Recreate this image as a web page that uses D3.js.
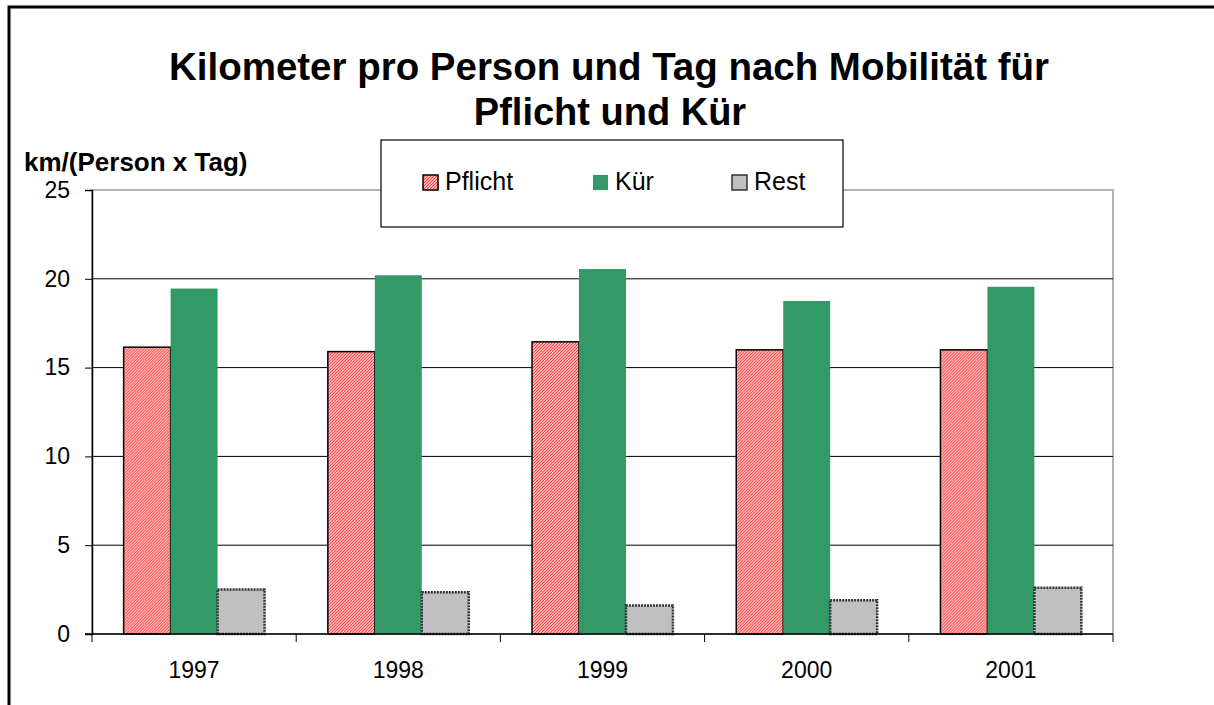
<!DOCTYPE html>
<html>
<head>
<meta charset="utf-8">
<script src="https://cdn.jsdelivr.net/npm/d3@7"></script>
<style>
  body { margin: 0; background: #fff; }
  svg { font-family: "Liberation Sans", Arial, sans-serif; }
</style>
</head>
<body>
<div id="chart"></div>
<script>
'use strict'

const years = ['1997', '1998', '1999', '2000', '2001']
const pflicht = [16.15, 15.9, 16.45, 16.0, 16.0]
const kuer = [19.45, 20.2, 20.55, 18.75, 19.55]
const rest = [2.5, 2.35, 1.6, 1.9, 2.6]
const seriesNames = ['Pflicht', 'Kür', 'Rest']
const yTicks = [0, 5, 10, 15, 20, 25]

const width = 1214
const height = 705
const plot = { left: 92, right: 1113, top: 190, bottom: 634 }

const svg = d3.select('#chart')
  .append('svg')
  .attr('width', width)
  .attr('height', height)

const defs = svg.append('defs')
const hatch = defs.append('pattern')
  .attr('id', 'hatch')
  .attr('patternUnits', 'userSpaceOnUse')
  .attr('width', 3)
  .attr('height', 3)
hatch.append('rect').attr('width', 3).attr('height', 3).attr('fill', '#fff0f0')
hatch.append('path')
  .attr('d', 'M-1,1 l2,-2 M0,3 l3,-3 M2,4 l2,-2')
  .attr('stroke', '#f33')
  .attr('stroke-width', 1.2)

// outer frame
svg.append('path')
  .attr('d', `M9,${height} V7 H${width}`)
  .attr('fill', 'none')
  .attr('stroke', '#000')
  .attr('stroke-width', 3)

const x0 = d3.scaleBand()
  .domain(years)
  .range([plot.left, plot.right])
  .paddingInner(0.31)
  .paddingOuter(0.155)

const x1 = d3.scaleBand()
  .domain(seriesNames)
  .range([0, x0.bandwidth()])

const y = d3.scaleLinear()
  .domain([0, 25])
  .range([plot.bottom, plot.top])

// plot frame
svg.append('rect')
  .attr('x', plot.left)
  .attr('y', plot.top)
  .attr('width', plot.right - plot.left)
  .attr('height', plot.bottom - plot.top)
  .attr('fill', '#fff')
  .attr('stroke', '#999')
  .attr('stroke-width', 1.5)

// gridlines
svg.append('g')
  .selectAll('line')
  .data(yTicks.filter(d => d > 0 && d < 25))
  .enter()
  .append('line')
  .attr('x1', plot.left)
  .attr('x2', plot.right)
  .attr('y1', d => y(d))
  .attr('y2', d => y(d))
  .attr('stroke', '#000')
  .attr('stroke-width', 1)

const data = years.map((yr, i) => ({
  year: yr,
  values: [
    { key: 'Pflicht', v: pflicht[i] },
    { key: 'Kür', v: kuer[i] },
    { key: 'Rest', v: rest[i] }
  ]
}))

const fills = { 'Pflicht': 'url(#hatch)', 'Kür': '#339966', 'Rest': '#c0c0c0' }
const strokes = { 'Pflicht': '#000', 'Kür': 'none', 'Rest': '#333' }
const strokeW = { 'Pflicht': 1.5, 'Kür': 0, 'Rest': 2.5 }

const groups = svg.append('g')
  .selectAll('g')
  .data(data)
  .enter()
  .append('g')
  .attr('transform', d => `translate(${x0(d.year)},0)`)

groups.selectAll('rect')
  .data(d => d.values)
  .enter()
  .append('rect')
  .attr('x', d => x1(d.key))
  .attr('y', d => y(d.v))
  .attr('width', x1.bandwidth())
  .attr('height', d => y(0) - y(d.v))
  .attr('fill', d => fills[d.key])
  .attr('stroke', d => strokes[d.key])
  .attr('stroke-width', d => strokeW[d.key])
  .attr('stroke-dasharray', d => d.key === 'Rest' ? '2,1' : null)

// y axis
const yAxis = svg.append('g')
  .attr('transform', `translate(${plot.left},0)`)
  .call(d3.axisLeft(y).tickValues(yTicks).tickSize(7).tickPadding(15))
yAxis.select('.domain').attr('stroke', '#000').attr('stroke-width', 1.5)
yAxis.selectAll('.tick line').attr('stroke', '#000')
yAxis.selectAll('text')
  .attr('font-size', 23)
  .attr('fill', '#000')
  .attr('font-family', '"Liberation Sans", Arial, sans-serif')

// x axis
const xEdge = d3.scaleLinear().domain([0, years.length]).range([plot.left, plot.right])
const xAxis = svg.append('g')
  .attr('transform', `translate(0,${plot.bottom})`)
xAxis.append('line')
  .attr('x1', plot.left - 7).attr('x2', plot.right)
  .attr('stroke', '#000').attr('stroke-width', 1.5)
xAxis.selectAll('line.tk')
  .data(d3.range(years.length + 1))
  .enter()
  .append('line')
  .attr('class', 'tk')
  .attr('x1', d => xEdge(d)).attr('x2', d => xEdge(d))
  .attr('y1', 0).attr('y2', 8)
  .attr('stroke', '#000')
xAxis.selectAll('text')
  .data(years)
  .enter()
  .append('text')
  .attr('x', (d, i) => (xEdge(i) + xEdge(i + 1)) / 2)
  .attr('y', 44)
  .attr('text-anchor', 'middle')
  .attr('font-size', 23)
  .text(d => d)

// title
svg.append('text')
  .attr('x', 609).attr('y', 80)
  .attr('text-anchor', 'middle')
  .attr('font-size', 38).attr('font-weight', 'bold')
  .attr('textLength', 880).attr('lengthAdjust', 'spacingAndGlyphs')
  .text('Kilometer pro Person und Tag nach Mobilität für')
svg.append('text')
  .attr('x', 610).attr('y', 125)
  .attr('text-anchor', 'middle')
  .attr('font-size', 38).attr('font-weight', 'bold')
  .text('Pflicht und Kür')

// y label
svg.append('text')
  .attr('x', 24).attr('y', 171)
  .attr('font-size', 26).attr('font-weight', 'bold')
  .text('km/(Person x Tag)')

// legend
const legend = svg.append('g')
legend.append('rect')
  .attr('x', 381).attr('y', 140)
  .attr('width', 462).attr('height', 87)
  .attr('fill', '#fff')
  .attr('stroke', '#000')
  .attr('stroke-width', 1.2)
const legendX = [423, 593, 732]
const items = legend.selectAll('g')
  .data(seriesNames)
  .enter()
  .append('g')
  .attr('transform', (d, i) => `translate(${legendX[i]},175)`)
items.append('rect')
  .attr('width', 15).attr('height', 15)
  .attr('fill', d => fills[d])
  .attr('stroke', d => strokes[d])
  .attr('stroke-width', d => d === 'Kür' ? 0 : 1.5)
items.append('text')
  .attr('x', 22).attr('y', 15)
  .attr('font-size', 25)
  .text(d => d)
</script>
</body>
</html>
